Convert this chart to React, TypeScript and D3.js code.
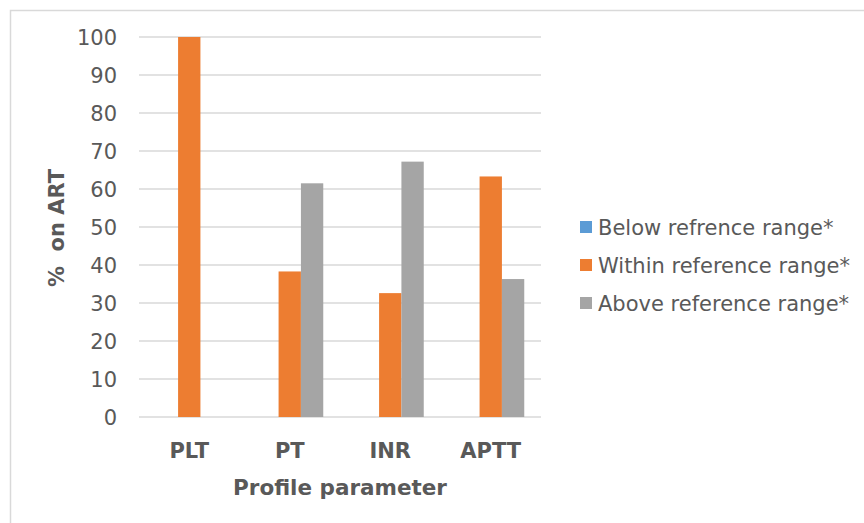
import React from "react";
import * as d3 from "d3";

const categories = ["PLT", "PT", "INR", "APTT"];
const seriesNames = [
  "Below refrence range*",
  "Within reference range*",
  "Above reference range*",
];
const belowValues = [0, 0, 0, 0];
const withinValues = [100, 38.3, 32.6, 63.3];
const aboveValues = [0, 61.5, 67.2, 36.3];
const seriesColors = ["#5B9BD5", "#ED7D31", "#A5A5A5"];
const yTicks = [0, 10, 20, 30, 40, 50, 60, 70, 80, 90, 100];

const W = 864;
const H = 523;
const plotLeft = 139;
const plotRight = 541;
const plotTop = 37;
const plotBottom = 417;
const textColor = "#595959";
const font = "'DejaVu Sans', Verdana, sans-serif";

export default function App() {
  const seriesValues = [belowValues, withinValues, aboveValues];
  const x0 = d3
    .scaleBand<string>()
    .domain(categories)
    .range([plotLeft, plotRight])
    .paddingInner(0)
    .paddingOuter(0);
  const bw = x0.bandwidth();
  const barW = bw / 4.5;
  const groupOffset = (bw - 3 * barW) / 2;
  const x1 = d3
    .scaleBand<number>()
    .domain([0, 1, 2])
    .range([0, 3 * barW])
    .padding(0);
  const y = d3.scaleLinear().domain([0, 100]).range([plotBottom, plotTop]);

  return (
    <svg
      width={W}
      height={H}
      style={{ position: "absolute", left: 0, top: 0, background: "#fff" }}
      fontFamily={font}
    >
      <rect x={0} y={0} width={W} height={H} fill="#fff" />
      <rect
        x={10.5}
        y={10.5}
        width={W + 20}
        height={H + 20}
        fill="none"
        stroke="#D9D9D9"
        strokeWidth={1.5}
      />
      {yTicks.map((t) => (
        <g key={t}>
          <line
            x1={plotLeft}
            x2={plotRight}
            y1={y(t)}
            y2={y(t)}
            stroke="#D9D9D9"
            strokeWidth={1.5}
          />
          <text
            x={117}
            y={y(t)}
            dy="0.36em"
            textAnchor="end"
            fontSize={21}
            fill={textColor}
          >
            {t}
          </text>
        </g>
      ))}
      {categories.map((c, ci) => (
        <g key={c}>
          {seriesValues.map((vals, si) =>
            vals[ci] > 0 ? (
              <rect
                key={si}
                x={(x0(c) as number) + groupOffset + (x1(si) as number)}
                y={y(vals[ci])}
                width={x1.bandwidth()}
                height={y(0) - y(vals[ci])}
                fill={seriesColors[si]}
              />
            ) : null
          )}
          <text
            x={(x0(c) as number) + bw / 2}
            y={458}
            textAnchor="middle"
            fontSize={21}
            fontWeight="bold"
            fill={textColor}
          >
            {c}
          </text>
        </g>
      ))}
      <text
        x={340}
        y={495}
        textAnchor="middle"
        fontSize={21.5}
        fontWeight="bold"
        fill={textColor}
      >
        Profile parameter
      </text>
      <text
        transform={`translate(57,228) rotate(-90)`}
        textAnchor="middle"
        dominantBaseline="central"
        fontSize={21}
        fontWeight="bold"
        fill={textColor}
        style={{ whiteSpace: "pre" }}
      >
        {"%  on ART"}
      </text>
      {seriesNames.map((s, i) => (
        <g key={s} transform={`translate(580,${227 + i * 38})`}>
          <rect x={0} y={-6} width={12} height={12} fill={seriesColors[i]} />
          <text
            x={18}
            y={0}
            dy="0.36em"
            fontSize={21}
            fill={textColor}
          >
            {s}
          </text>
        </g>
      ))}
    </svg>
  );
}
